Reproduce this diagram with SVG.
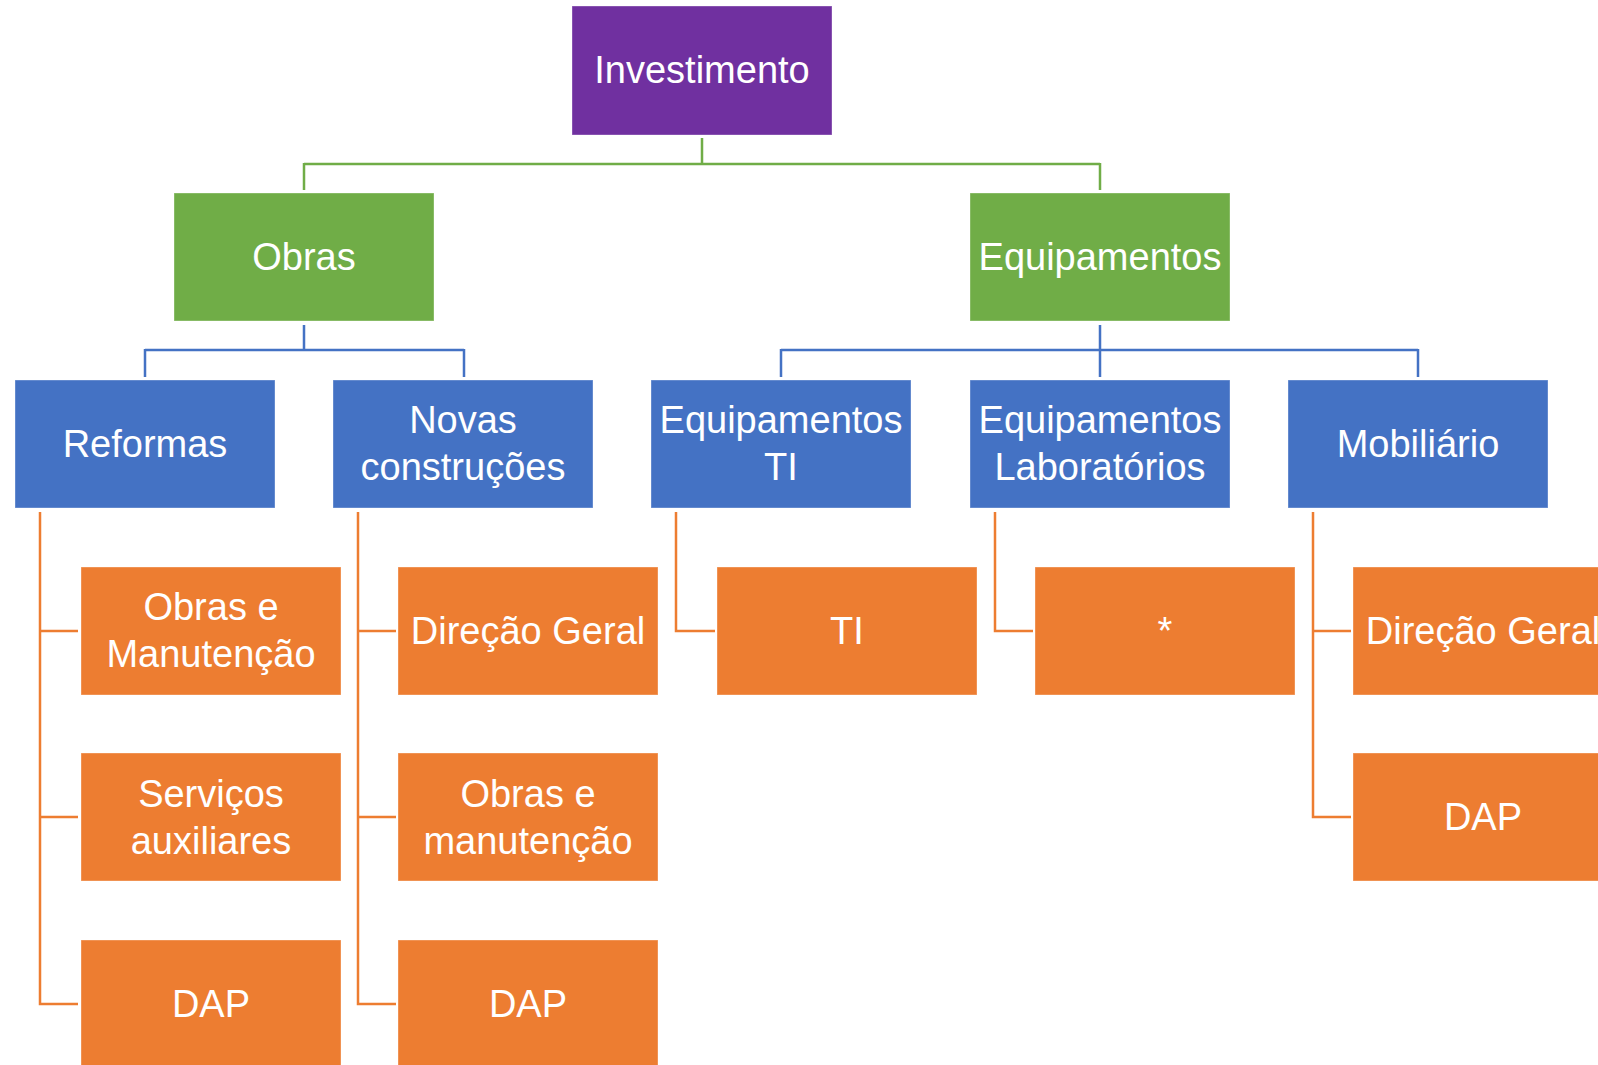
<svg xmlns="http://www.w3.org/2000/svg" width="1598" height="1065" viewBox="0 0 1598 1065">
<style>
.box{stroke:#ffffff;stroke-opacity:0.35;stroke-width:1}
.p{fill:#7030A0}.g{fill:#70AD47}.b{fill:#4472C4}.o{fill:#ED7D31}
text{font-family:"Liberation Sans",Arial,sans-serif;font-size:38px;fill:#ffffff;text-anchor:middle}
.c{fill:none;stroke-width:2.5}
.cg{stroke:#70AD47}.cb{stroke:#4472C4}.co{stroke:#ED7D31}
</style>
<rect width="1598" height="1065" fill="#ffffff"/>
<g id="connectors">
<path class="c cg" d="M702 138V164M304 164H1100M304 163V190M1100 163V190"/>
<path class="c cb" d="M304 325V350M145 350H464M145 349V377M464 349V377"/>
<path class="c cb" d="M1100 325V377M781 350H1418M781 349V377M1418 349V377"/>
<path class="c co" d="M40 512V1004H78M40 631H78M40 817H78"/>
<path class="c co" d="M358 512V1004H396M358 631H396M358 817H396"/>
<path class="c co" d="M676 512V631H715"/>
<path class="c co" d="M995 512V631H1033"/>
<path class="c co" d="M1313 512V817H1351M1313 631H1351"/>
</g>
<g id="investimento"><rect class="box p" x="572" y="6" width="260" height="129"/><text x="702" y="83">Investimento</text></g>
<g id="obras"><rect class="box g" x="174" y="193" width="260" height="128"/><text x="304" y="270">Obras</text></g>
<g id="equipamentos"><rect class="box g" x="970" y="193" width="260" height="128"/><text x="1100" y="270">Equipamentos</text></g>
<g id="reformas"><rect class="box b" x="15" y="380" width="260" height="128"/><text x="145" y="457">Reformas</text></g>
<g id="novas"><rect class="box b" x="333" y="380" width="260" height="128"/><text x="463" y="433">Novas</text><text x="463" y="480">construções</text></g>
<g id="equip-ti"><rect class="box b" x="651" y="380" width="260" height="128"/><text x="781" y="433">Equipamentos</text><text x="781" y="480">TI</text></g>
<g id="equip-lab"><rect class="box b" x="970" y="380" width="260" height="128"/><text x="1100" y="433">Equipamentos</text><text x="1100" y="480">Laboratórios</text></g>
<g id="mobiliario"><rect class="box b" x="1288" y="380" width="260" height="128"/><text x="1418" y="457">Mobiliário</text></g>
<g id="ref-obras"><rect class="box o" x="81" y="567" width="260" height="128"/><text x="211" y="620">Obras e</text><text x="211" y="667">Manutenção</text></g>
<g id="ref-servicos"><rect class="box o" x="81" y="753" width="260" height="128"/><text x="211" y="807">Serviços</text><text x="211" y="854">auxiliares</text></g>
<g id="ref-dap"><rect class="box o" x="81" y="940" width="260" height="128"/><text x="211" y="1017">DAP</text></g>
<g id="nov-direcao"><rect class="box o" x="398" y="567" width="260" height="128"/><text x="528" y="644">Direção Geral</text></g>
<g id="nov-obras"><rect class="box o" x="398" y="753" width="260" height="128"/><text x="528" y="807">Obras e</text><text x="528" y="854">manutenção</text></g>
<g id="nov-dap"><rect class="box o" x="398" y="940" width="260" height="128"/><text x="528" y="1017">DAP</text></g>
<g id="ti"><rect class="box o" x="717" y="567" width="260" height="128"/><text x="847" y="644">TI</text></g>
<g id="lab-star"><rect class="box o" x="1035" y="567" width="260" height="128"/><text x="1165" y="644">*</text></g>
<g id="mob-direcao"><rect class="box o" x="1353" y="567" width="260" height="128"/><text x="1483" y="644">Direção Geral</text></g>
<g id="mob-dap"><rect class="box o" x="1353" y="753" width="260" height="128"/><text x="1483" y="830">DAP</text></g>
</svg>
